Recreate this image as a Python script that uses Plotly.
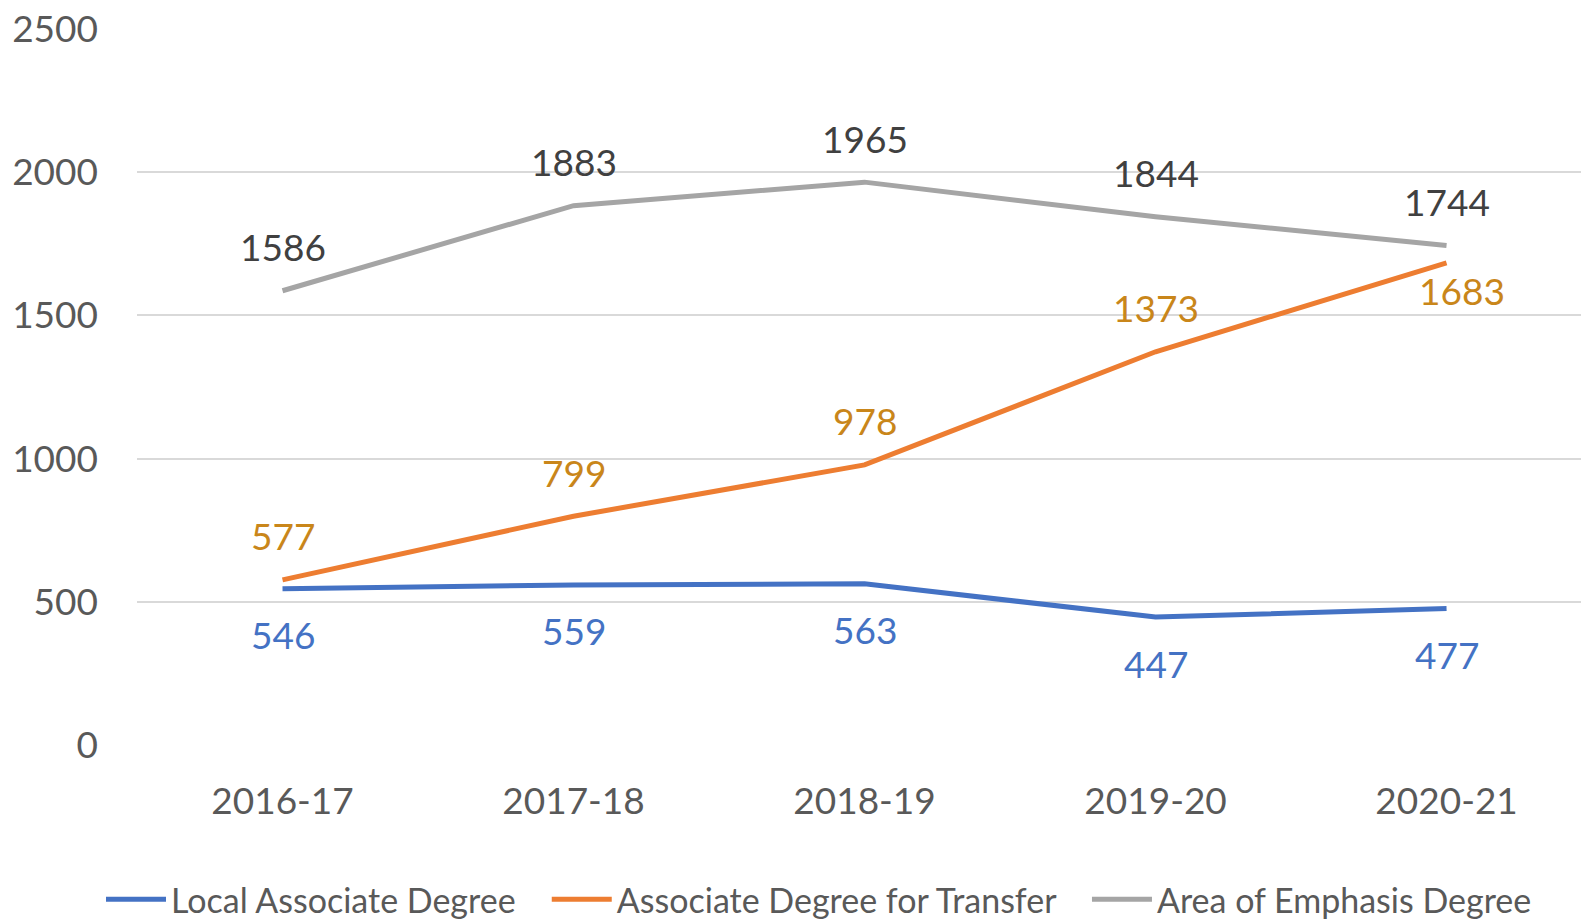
import plotly.graph_objects as go

years = ["2016-17", "2017-18", "2018-19", "2019-20", "2020-21"]
local_assoc = [546, 559, 563, 447, 477]
adt = [577, 799, 978, 1373, 1683]
aoe = [1586, 1883, 1965, 1844, 1744]

series_names = ["Local Associate Degree", "Associate Degree for Transfer", "Area of Emphasis Degree"]
line_colors = ["#4472C4", "#ED7D31", "#A5A5A5"]
label_colors = ["#4472C4", "#C9861A", "#404040"]

FONT = "Lato"
PAD = "\u00a0\u00a0\u00a0"
fig = go.Figure()
for k, (name, vals, col) in enumerate(zip(series_names, [local_assoc, adt, aoe], line_colors)):
    fig.add_trace(go.Scatter(x=list(range(len(years))), y=vals, mode="lines",
                             name=name + (PAD if k < 2 else ""),
                             line=dict(color=col, width=5), hoverinfo="skip"))

annotations = []
for i, v in enumerate(local_assoc):
    annotations.append(dict(x=i, y=v, text=str(v), showarrow=False, yshift=-46,
                            font=dict(color=label_colors[0], size=37, family=FONT)))
for i, v in enumerate(adt):
    if i == len(adt) - 1:
        annotations.append(dict(x=i, y=v, text=str(v), showarrow=False, yshift=-28, xshift=15,
                                font=dict(color=label_colors[1], size=37, family=FONT)))
    else:
        annotations.append(dict(x=i, y=v, text=str(v), showarrow=False, yshift=44,
                                font=dict(color=label_colors[1], size=37, family=FONT)))
for i, v in enumerate(aoe):
    annotations.append(dict(x=i, y=v, text=str(v), showarrow=False, yshift=44,
                            font=dict(color=label_colors[2], size=37, family=FONT)))

fig.update_layout(
    width=1581, height=923,
    margin=dict(l=137, r=0, t=28, b=177, autoexpand=False),
    paper_bgcolor="white", plot_bgcolor="white",
    font=dict(family=FONT, color="#595959", size=37),
    showlegend=True,
    legend=dict(orientation="h", x=0.4723, xanchor="center", y=-0.214, yanchor="middle",
                font=dict(size=34, color="#595959", family=FONT), itemwidth=60,
                tracegroupgap=0, traceorder="normal"),
    annotations=annotations,
    xaxis=dict(tickmode="array", tickvals=list(range(len(years))), ticktext=years,
               range=[-0.5, 4.462], showgrid=False, zeroline=False, showline=False,
               ticks="", ticklabelstandoff=30, automargin=False,
               tickfont=dict(size=37, color="#595959")),
    yaxis=dict(range=[-3, 2503], tickvals=[0, 500, 1000, 1500, 2000, 2500],
               showgrid=True, gridcolor="#D9D9D9", gridwidth=2, zeroline=False,
               showline=False, ticks="", ticklabelstandoff=38, automargin=False,
               tickfont=dict(size=37, color="#595959")),
)

fig.write_html("out.html", config={"displayModeBar": False},
               post_script="document.body.style.margin='0';document.body.style.overflow='hidden';")
